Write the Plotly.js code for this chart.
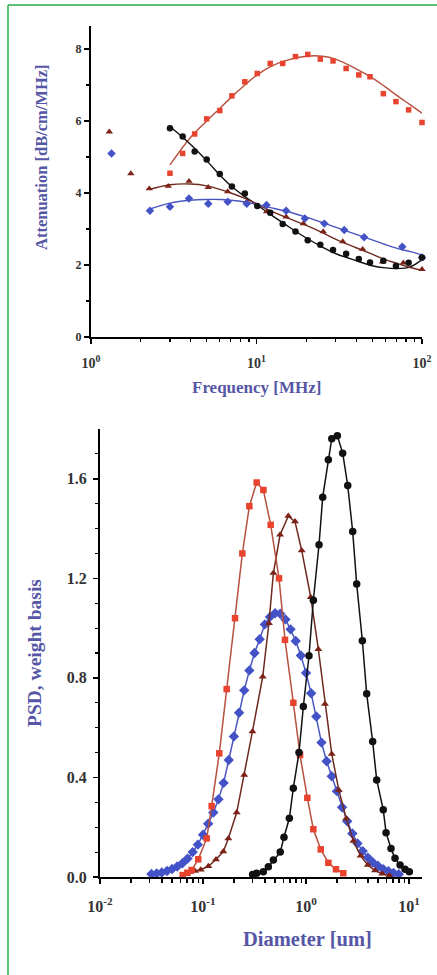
<!DOCTYPE html>
<html>
<head>
<meta charset="utf-8">
<script src="https://cdn.plot.ly/plotly-3.0.1.min.js"></script>
<style>
  html, body { margin: 0; padding: 0; background: #ffffff; }
  #chart { width: 437px; height: 975px; }
</style>
</head>
<body>
<div id="chart"></div>
<script>
// ---------- Top panel: attenuation spectra ----------
const freqRB = [3.0, 3.58, 4.23, 5.0, 6.0, 7.1, 8.5, 10.1, 12.1, 14.4, 17.2, 20.4, 24.3, 29.0, 34.8, 41.5, 48.5, 58.4, 69.6, 83, 100];
const attRed = [4.55, 5.1, 5.64, 6.06, 6.29, 6.70, 7.09, 7.32, 7.6, 7.6, 7.79, 7.85, 7.72, 7.67, 7.46, 7.28, 7.23, 6.76, 6.54, 6.31, 5.96];
const attBlack = [5.8, 5.57, 5.15, 4.93, 4.53, 4.18, 3.99, 3.64, 3.45, 3.14, 2.93, 2.69, 2.56, 2.42, 2.31, 2.17, 2.07, 2.12, 1.97, 2.06, 2.21];
const freqBrown = [1.29, 1.74, 2.25, 2.93, 3.91, 5.11, 6.7, 8.73, 11.5, 15.1, 19.2, 25.3, 33.2, 43.8, 57.8, 77.1, 100];
const attBrown = [5.7, 4.54, 4.12, 4.19, 4.33, 4.16, 4.04, 3.76, 3.48, 3.34, 3.15, 2.93, 2.65, 2.44, 2.09, 2.06, 1.88];
const freqBlue = [1.33, 2.27, 3.0, 3.91, 5.11, 6.7, 8.73, 11.5, 15.1, 19.6, 25.7, 33.9, 44.7, 76, 100];
const attBlue = [5.1, 3.51, 3.62, 3.85, 3.70, 3.76, 3.70, 3.67, 3.51, 3.29, 3.15, 2.97, 2.77, 2.51, 2.21];

// fitted (theory) curves
const fitFreq = [3, 4, 5, 6, 7, 8.5, 10, 12, 15, 20, 25, 30, 40, 50, 60, 70, 85, 100];
const fitRed = [4.78, 5.55, 6.0, 6.35, 6.65, 7.0, 7.27, 7.5, 7.68, 7.8, 7.8, 7.72, 7.45, 7.2, 6.95, 6.72, 6.45, 6.22];
const fitBlack = [5.85, 5.35, 4.9, 4.5, 4.2, 3.9, 3.68, 3.42, 3.12, 2.75, 2.5, 2.32, 2.12, 1.98, 1.92, 1.9, 1.95, 2.15];
const fitFreqLow = [2.25, 3, 4, 5, 6, 7, 8.5, 10, 12, 15, 20, 25, 30, 40, 50, 60, 70, 85, 100];
const fitBrown = [4.1, 4.23, 4.25, 4.2, 4.1, 4.0, 3.85, 3.7, 3.52, 3.33, 3.1, 2.9, 2.72, 2.48, 2.3, 2.15, 2.05, 1.93, 1.85];
const fitBlue = [3.55, 3.72, 3.8, 3.82, 3.82, 3.8, 3.75, 3.68, 3.6, 3.5, 3.33, 3.18, 3.05, 2.85, 2.7, 2.57, 2.47, 2.37, 2.28];

// ---------- Bottom panel: particle size distributions ----------
const diaBlue = [0.0316, 0.0355, 0.0398, 0.0447, 0.0501, 0.0562, 0.0631, 0.0708, 0.0794, 0.0891, 0.1, 0.1122, 0.1259, 0.1413, 0.1585, 0.1778, 0.1995, 0.2239, 0.2512, 0.2818, 0.3162, 0.3548, 0.3981, 0.4467, 0.5012, 0.5623, 0.631, 0.7079, 0.7943, 0.8913, 1.0, 1.122, 1.259, 1.413, 1.585, 1.778, 1.995, 2.239, 2.512, 2.818, 3.162, 3.548, 3.981, 4.467, 5.012, 5.623, 6.31, 7.079, 7.943];
const psdBlue = [0.012, 0.014, 0.018, 0.024, 0.032, 0.042, 0.055, 0.074, 0.100, 0.130, 0.170, 0.214, 0.259, 0.312, 0.378, 0.47, 0.565, 0.66, 0.75, 0.83, 0.90, 0.955, 1.015, 1.045, 1.06, 1.058, 1.035, 0.995, 0.948, 0.89, 0.82, 0.738, 0.645, 0.54, 0.465, 0.405, 0.345, 0.28, 0.224, 0.175, 0.135, 0.104, 0.078, 0.058, 0.044, 0.031, 0.023, 0.016, 0.011];

const diaRed = [0.0635, 0.0705, 0.0776, 0.0899, 0.1086, 0.1213, 0.1439, 0.1698, 0.2046, 0.241, 0.2818, 0.332, 0.3855, 0.4539, 0.547, 0.625, 0.7534, 0.875, 1.03, 1.178, 1.39, 1.648, 1.954, 2.301];
const psdRed = [0.008, 0.017, 0.028, 0.071, 0.155, 0.285, 0.497, 0.755, 1.04, 1.30, 1.49, 1.585, 1.555, 1.415, 1.20, 0.953, 0.70, 0.49, 0.318, 0.192, 0.111, 0.057, 0.031, 0.015];

const diaBrown = [0.0748, 0.0836, 0.0951, 0.1127, 0.1337, 0.1574, 0.1762, 0.2123, 0.2512, 0.302, 0.380, 0.4365, 0.482, 0.560, 0.673, 0.782, 0.908, 1.112, 1.318, 1.528, 1.778, 2.080, 2.455, 2.884, 3.388, 3.981, 4.677, 5.495, 6.457];
const psdBrown = [0.02, 0.024, 0.029, 0.043, 0.07, 0.102, 0.155, 0.259, 0.41, 0.585, 0.805, 1.02, 1.221, 1.375, 1.45, 1.428, 1.312, 1.124, 0.915, 0.695, 0.494, 0.35, 0.235, 0.145, 0.085, 0.048, 0.026, 0.013, 0.006];

const diaBlack = [0.303, 0.332, 0.385, 0.431, 0.482, 0.562, 0.611, 0.689, 0.753, 0.855, 0.942, 1.069, 1.178, 1.337, 1.452, 1.648, 1.778, 2.014, 2.270, 2.541, 2.838, 3.105, 3.524, 3.882, 4.436, 4.853, 5.623, 5.984, 6.683, 7.311, 8.185, 9.141, 10.07];
const psdBlack = [0.01, 0.015, 0.021, 0.041, 0.068, 0.10, 0.16, 0.236, 0.357, 0.50, 0.685, 0.889, 1.112, 1.335, 1.526, 1.676, 1.761, 1.773, 1.703, 1.573, 1.388, 1.177, 0.949, 0.736, 0.544, 0.39, 0.27, 0.178, 0.115, 0.075, 0.048, 0.031, 0.021];

// tick labels
const topXTicks = [1, 10, 100];
const topXText = ['10<sup>0</sup>', '10<sup>1</sup>', '10<sup>2</sup>'];
const topYTicks = [0, 2, 4, 6, 8];
const botXTicks = [0.01, 0.1, 1, 10];
const botXText = ['10<sup>-2</sup>', '10<sup>-1</sup>', '10<sup>0</sup>', '10<sup>1</sup>'];
const botYTicks = [0, 0.4, 0.8, 1.2, 1.6];
const botYText = ['0.0', '0.4', '0.8', '1.2', '1.6'];

const RED = '#e8432e', RED_LINE = '#b8503f';
const BROWN = '#7d2216', BROWN_LINE = '#6e2a20';
const BLUE = '#4352c6', BLUE_LINE = '#4a56c0';
const BLACK = '#111111';
const TITLE_C = '#5656a6';
const TICK_C = '#333333';
const SERIF = '"Liberation Serif", "DejaVu Serif", serif';

function pts(x, y, color, symbol, size, xa, ya) {
  return {x: x, y: y, mode: 'markers', type: 'scatter', xaxis: xa, yaxis: ya,
          cliponaxis: false, marker: {color: color, symbol: symbol, size: size}, hoverinfo: 'skip'};
}
function fit(x, y, color, xa, ya) {
  return {x: x, y: y, mode: 'lines', type: 'scatter', xaxis: xa, yaxis: ya,
          line: {color: color, width: 1.4, shape: 'spline'}, hoverinfo: 'skip'};
}
function lm(x, y, color, lineColor, symbol, size) {
  return {x: x, y: y, mode: 'lines+markers', type: 'scatter', xaxis: 'x2', yaxis: 'y2',
          cliponaxis: false,
          line: {color: lineColor, width: 1.5},
          marker: {color: color, symbol: symbol, size: size}, hoverinfo: 'skip'};
}

const data = [
  fit(fitFreq, fitRed, RED_LINE, 'x', 'y'),
  fit(fitFreq, fitBlack, BLACK, 'x', 'y'),
  fit(fitFreqLow, fitBrown, BROWN_LINE, 'x', 'y'),
  fit(fitFreqLow, fitBlue, BLUE_LINE, 'x', 'y'),
  pts(freqRB, attRed, RED, 'square', 5.5, 'x', 'y'),
  pts(freqBrown, attBrown, BROWN, 'triangle-up', 6.5, 'x', 'y'),
  pts(freqBlue, attBlue, BLUE, 'diamond', 6.5, 'x', 'y'),
  pts(freqRB, attBlack, BLACK, 'circle', 6.5, 'x', 'y'),

  lm(diaBlue, psdBlue, BLUE, BLUE_LINE, 'diamond', 8),
  lm(diaBrown, psdBrown, BROWN, BROWN_LINE, 'triangle-up', 7),
  lm(diaRed, psdRed, RED, RED_LINE, 'square', 6.5),
  lm(diaBlack, psdBlack, BLACK, BLACK, 'circle', 7.5)
];

const W = 437, H = 975;
function axBase() {
  return {showgrid: false, zeroline: false, showline: true, linecolor: '#000', linewidth: 2,
          ticks: 'outside', tickcolor: '#000', tickwidth: 1.5, ticklen: 5,
          tickfont: {family: SERIF, size: 13, color: TICK_C, weight: 'bold'}, fixedrange: true};
}

const layout = {
  width: W, height: H,
  margin: {l: 0, r: 0, t: 0, b: 0},
  paper_bgcolor: '#ffffff', plot_bgcolor: '#ffffff',
  showlegend: false,
  font: {family: SERIF, size: 13, color: TICK_C},
  xaxis: Object.assign(axBase(), {
    type: 'log', range: [0, 2], domain: [91 / W, 422 / W], anchor: 'y',
    tickmode: 'array', tickvals: topXTicks, ticktext: topXText,
    ticklabelstandoff: 7,
    tickfont: {family: SERIF, size: 14, color: TICK_C, weight: 'bold'},
    minor: {tickvals: [2,3,4,5,6,7,8,9,20,30,40,50,60,70,80,90], ticks: 'outside', ticklen: 3, tickcolor: '#000', tickwidth: 1.2}
  }),
  yaxis: Object.assign(axBase(), {
    range: [0, 8.64], domain: [1 - 337 / H, 1 - 26 / H], anchor: 'x',
    tickmode: 'array', tickvals: topYTicks,
    tickfont: {family: SERIF, size: 12, color: TICK_C, weight: 'bold'},
    minor: {tickvals: [1, 3, 5, 7], ticks: 'outside', ticklen: 3, tickcolor: '#000', tickwidth: 1.2}
  }),
  xaxis2: Object.assign(axBase(), {
    type: 'log', range: [-2, 1.126], domain: [100 / W, 422 / W], anchor: 'y2',
    tickmode: 'array', tickvals: botXTicks, ticktext: botXText,
    ticklabelstandoff: 9,
    tickfont: {family: SERIF, size: 16, color: TICK_C, weight: 'bold'},
    minor: {tickvals: [0.02,0.03,0.04,0.05,0.06,0.07,0.08,0.09,0.2,0.3,0.4,0.5,0.6,0.7,0.8,0.9,2,3,4,5,6,7,8,9], ticks: 'outside', ticklen: 4, tickcolor: '#000', tickwidth: 1.2}
  }),
  yaxis2: Object.assign(axBase(), {
    range: [0, 1.80], domain: [1 - 877 / H, 1 - 429 / H], anchor: 'x2',
    tickmode: 'array', tickvals: botYTicks, ticktext: botYText,
    ticklabelstandoff: 3,
    tickfont: {family: SERIF, size: 16, color: TICK_C, weight: 'bold'},
    minor: {tickvals: [0.1,0.2,0.3,0.5,0.6,0.7,0.9,1.0,1.1,1.3,1.4,1.5,1.7], ticks: 'outside', ticklen: 3, tickcolor: '#000', tickwidth: 1.2}
  }),
  annotations: [
    {text: '<b>Attenuation [dB/cm/MHz]</b>', xref: 'paper', yref: 'paper', x: 42 / W, y: 1 - 157 / H,
     showarrow: false, textangle: -90, xanchor: 'center', yanchor: 'middle',
     font: {family: SERIF, size: 16.5, color: TITLE_C}},
    {text: '<b>Frequency [MHz]</b>', xref: 'paper', yref: 'paper', x: 257 / W, y: 1 - 387 / H,
     showarrow: false, xanchor: 'center', yanchor: 'middle',
     font: {family: SERIF, size: 17, color: TITLE_C}},
    {text: '<b>PSD, weight basis</b>', xref: 'paper', yref: 'paper', x: 34 / W, y: 1 - 653 / H,
     showarrow: false, textangle: -90, xanchor: 'center', yanchor: 'middle',
     font: {family: SERIF, size: 19.5, color: TITLE_C}},
    {text: '<b>Diameter [um]</b>', xref: 'paper', yref: 'paper', x: 307 / W, y: 1 - 939 / H,
     showarrow: false, xanchor: 'center', yanchor: 'middle',
     font: {family: SERIF, size: 20.5, color: TITLE_C}}
  ],
  shapes: [
    {type: 'line', xref: 'paper', yref: 'paper', x0: 8 / W, x1: 8 / W, y0: 0, y1: 1 - 5 / H,
     line: {color: '#22b04a', width: 1.5}},
    {type: 'line', xref: 'paper', yref: 'paper', x0: 8 / W, x1: 1, y0: 1 - 5 / H, y1: 1 - 5 / H,
     line: {color: '#22b04a', width: 1.5}}
  ]
};

Plotly.newPlot('chart', data, layout, {displayModeBar: false, staticPlot: true});
</script>
</body>
</html>
